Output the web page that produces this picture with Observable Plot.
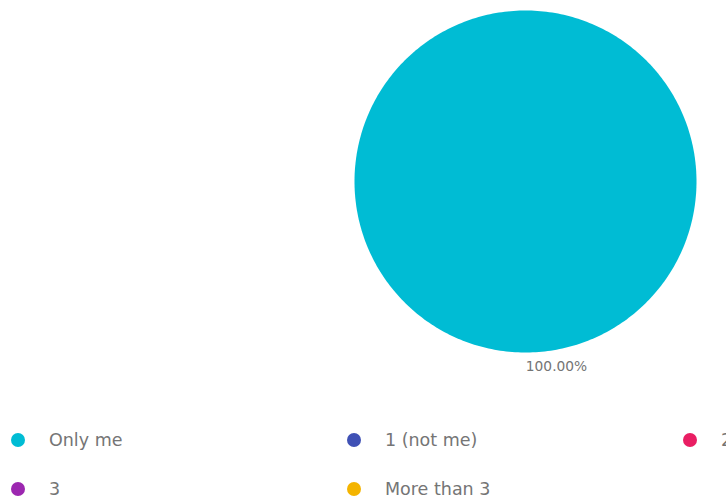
<!DOCTYPE html>
<html>
<head>
<meta charset="utf-8">
<script src="https://cdn.jsdelivr.net/npm/d3@7"></script>
<script src="https://cdn.jsdelivr.net/npm/@observablehq/plot@0.6"></script>
<style>
  html, body { margin: 0; padding: 0; background: #fff; }
  body { width: 726px; height: 497px; overflow: hidden; position: relative; font-family: "DejaVu Sans", sans-serif; }
  #chart { position: absolute; left: 0; top: 0; }
  #legend { position: absolute; left: 0; top: 415px; display: grid; grid-template-columns: repeat(3, 336px); grid-auto-rows: 49px; width: 1008px; }
  .item { display: flex; align-items: center; font-size: 17.5px; color: #757575; white-space: nowrap; }
  .dot { width: 14px; height: 14px; border-radius: 50%; margin-left: 11px; margin-right: 24px; flex: none; }
</style>
</head>
<body>
<div id="chart"></div>
<div id="legend"></div>
<script>
const categories = ["Only me", "1 (not me)", "2", "3", "More than 3"];
const values = [100, 0, 0, 0, 0];
const colors = ["#00BCD4", "#3F51B5", "#E91E63", "#9C27B0", "#F4B400"];

const total = d3.sum(values);
const arcs = d3.pie().sort(null).value(d => d)(values);

// polygon points for each slice (angle measured clockwise from top)
const points = [];
const labels = [];
arcs.forEach((a, i) => {
  if (a.value <= 0) return;
  const full = a.endAngle - a.startAngle >= 2 * Math.PI - 1e-9;
  const steps = Math.max(2, Math.ceil((a.endAngle - a.startAngle) / (Math.PI / 180)));
  if (!full) points.push({category: categories[i], x: 0, y: 0});
  for (let k = 0; k <= steps; k++) {
    const t = a.startAngle + (a.endAngle - a.startAngle) * k / steps;
    points.push({category: categories[i], x: Math.sin(t), y: Math.cos(t)});
  }
  const mid = (a.startAngle + a.endAngle) / 2;
  labels.push({
    x: 1.08 * Math.sin(mid),
    y: 1.08 * Math.cos(mid),
    text: (100 * a.value / total).toFixed(2) + "%"
  });
});

const chart = Plot.plot({
  width: 726,
  height: 400,
  margin: 0,
  style: { fontFamily: "DejaVu Sans, sans-serif", background: "transparent" },
  x: { domain: [-1, 1], range: [354, 696], axis: null },
  y: { domain: [-1, 1], range: [352, 10], axis: null },
  color: { domain: categories, range: colors },
  marks: [
    Plot.line(points, { x: "x", y: "y", z: "category", fill: "category", stroke: "none", curve: "linear" }),
    Plot.text(labels, { x: "x", y: "y", text: "text", dx: 31, fontSize: 13.8, fill: "#757575" })
  ]
});
document.getElementById("chart").appendChild(chart);

const legend = document.getElementById("legend");
categories.forEach((c, i) => {
  const item = document.createElement("div");
  item.className = "item";
  const dot = document.createElement("span");
  dot.className = "dot";
  dot.style.background = colors[i];
  const label = document.createElement("span");
  label.textContent = c;
  item.appendChild(dot);
  item.appendChild(label);
  legend.appendChild(item);
});
</script>
</body>
</html>
